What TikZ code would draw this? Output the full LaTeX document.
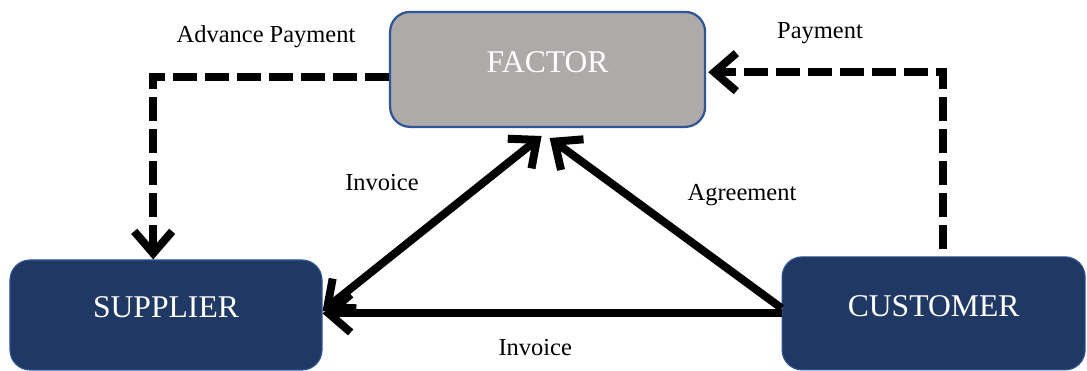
\documentclass[tikz,border=0pt]{standalone}
\usepackage{fontspec}
\setmainfont{Liberation Serif}
\usetikzlibrary{arrows.meta}

\definecolor{navy}{RGB}{31,56,100}
\definecolor{factorgray}{RGB}{174,170,169}
\definecolor{edgeblue}{RGB}{47,85,151}

\begin{document}
\begin{tikzpicture}[font=\fontsize{17.4}{20}\selectfont,
    >={Straight Barb[length=0.55cm, width=0.95cm]},
    box/.style={rounded corners=0.5cm, draw=edgeblue, text=white,
      font=\fontsize{22.5}{26}\selectfont, text height=15pt, text depth=11pt},
    flow/.style={->, line width=0.2cm},
    dashflow/.style={flow, dash pattern=on 0.6cm off 0.2cm}]

  \useasboundingbox (0,0) rectangle (27.175,9.275);

  % boxes
  \node[box, fill=factorgray, line width=1.6pt,
        minimum width=7.875cm, minimum height=2.875cm] (factor)   at (13.69, 7.54) {FACTOR};
  \node[box, fill=navy, line width=0.8pt,
        minimum width=7.8cm,   minimum height=2.75cm]  (supplier) at (4.15,  1.40) {SUPPLIER};
  \node[box, fill=navy, line width=0.8pt,
        minimum width=7.575cm, minimum height=2.825cm] (customer) at (23.34, 1.44) {CUSTOMER};

  % payments (dashed)
  \draw[dashflow] ([yshift=-0.19cm]factor.west) -| ([xshift=-0.32cm]supplier.north);
  \draw[dashflow] ([xshift=0.24cm, yshift=0.18cm]customer.north) |- ([xshift=0.05cm, yshift=-0.07cm]factor.east);

  % invoices and agreement
  \coordinate (apexL) at ([xshift=-0.15cm, yshift=-0.2cm]factor.south);
  \coordinate (apexR) at ([xshift=0.05cm,  yshift=-0.25cm]factor.south);
  \draw[flow] (customer.west) -- (customer.west -| supplier.east);
  \draw[flow, <->] ([yshift=0.1cm]supplier.east) -- (apexL);
  \draw[flow] ([yshift=0.13cm]customer.west) -- (apexR);

  % labels
  \node (lblAdvance) at (6.65,  8.35)  {Advance Payment};
  \node (lblPayment) at (20.5,  8.45)  {Payment};
  \node (lblInvUp)   at (9.55,  4.72)  {Invoice};
  \node (lblAgree)   at (18.55, 4.40)  {Agreement};
  \node (lblInvLow)  at (13.38, 0.58)  {Invoice};

\end{tikzpicture}
\end{document}
